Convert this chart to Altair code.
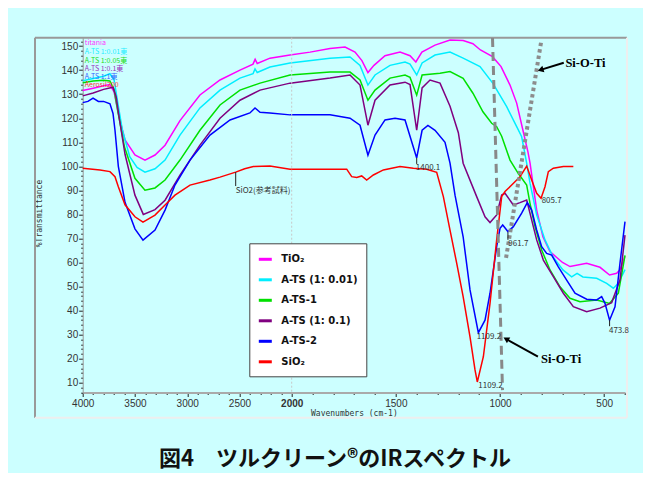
import altair as alt
import pandas as pd

# ---------------- data (wavenumber cm-1, %Transmittance) ----------------
tio2 = [(4000,131.5),(3900,132.5),(3800,133.5),(3740,134),(3700,131),(3660,122),(3595,111),(3500,104.7),
        (3404,102.6),(3308,104.7),(3212,108.8),(3069,119),(2878,129.7),(2686,135.9),(2495,140),(2370,142.5),
        (2350,144.5),(2330,142.8),(2208,145),(2016,146.3),(1912,147.5),(1816,149),(1744,149.6),(1696,147.5),
        (1663,144),(1634,139),(1605,142),(1552,146),(1480,147.5),(1432,146),(1404,143.4),(1375,147.5),
        (1312,150.4),(1240,152.5),(1177,152.3),(1130,151),(1094,148.4),(1036,145.6),(995,141.5),(952,133.8),
        (920,126.3),(890,115),(866,106),(856,101.4),(824,81.8),(794,70.7),(760,64.5),(700,60),(664,58.3),
        (584,59.7),(520,58),(474,54.8),(440,55.5),(424,57),(400,62.6)]
ats001 = [(4000,135.6),(3900,136.5),(3800,137.5),(3740,138.5),(3700,136),(3670,128),(3620,115),(3550,104),
          (3480,99.5),(3404,97.6),(3308,99),(3212,102.6),(3069,113),(2878,124.3),(2686,131.7),(2495,136.7),
          (2370,138.5),(2351,140.5),(2330,139),(2208,141.3),(2016,143),(1816,145),(1720,145.5),(1672,142),
          (1634,133.8),(1600,138),(1528,142),(1456,143.4),(1432,142.5),(1400,138),(1374,143),(1312,146.3),
          (1240,147.5),(1177,145),(1096,141.5),(1034,134.5),(968,124.8),(920,116.5),(896,112.3),(872,101.3),
          (856,93),(824,79.8),(784,69.4),(746,62.4),(698,56.9),(656,54),(630,55.5),(602,54),(536,53.4),
          (488,51.3),(456,49.3),(432,51.3),(400,57)]
ats1 = [(4000,134.8),(3900,135.5),(3800,135.8),(3740,135.5),(3700,132),(3660,122),(3600,108),(3500,95),
        (3404,90.1),(3308,91),(3212,94.3),(3069,102.6),(2878,115),(2686,125.5),(2495,131.7),(2303,134.6),
        (2016,138),(1816,139.2),(1720,139.2),(1672,135.9),(1634,127.5),(1600,131.7),(1528,136.7),(1456,138),
        (1432,137),(1400,129.6),(1374,138),(1288,138.7),(1240,139.4),(1177,136.6),(1130,130.4),(1082,122.7),
        (1040,117.9),(1016,116.5),(992,112.5),(952,102.6),(912,97),(872,92.2),(856,84.6),(832,74.9),
        (800,65.2),(760,56.9),(712,49.9),(664,45.1),(616,43.7),(536,44.4),(474,43),(432,47.2),(400,63)]
ats01 = [(4000,129.3),(3900,130.5),(3800,132),(3710,132.9),(3680,129),(3650,120),(3595,105),(3500,88),
         (3420,80),(3308,82),(3212,85.9),(3069,96.3),(2878,108.8),(2686,120),(2495,127.5),(2303,131.7),
         (2016,134.6),(1816,136.7),(1720,138),(1672,133.8),(1634,117.1),(1600,127.5),(1528,133.8),(1456,135),
         (1432,134),(1400,115),(1374,132.6),(1336,135.9),(1288,134.6),(1240,125),(1200,114),(1177,101.3),
         (1112,87.4),(1072,79),(1048,76.6),(1016,79.8),(992,88.1),(976,88.8),(936,83.9),(904,84.9),(872,86),
         (856,80.5),(824,69.4),(792,61),(744,54.1),(696,47.2),(648,41.6),(584,39.5),(520,41),(464,43.3),
         (424,52.7),(400,71.4)]
ats2 = [(4000,126.5),(3950,127),(3901,128.4),(3850,127),(3800,127),(3739,126),(3710,122),(3691,115),
        (3659,100),(3595,85),(3500,74),(3423,69.3),(3308,73.5),(3212,81.8),(3117,92.2),(2973,102.6),
        (2782,113),(2590,119.3),(2400,122.2),(2351,124.3),(2303,122.5),(2208,122.2),(2016,121.4),(1816,121.4),
        (1720,120),(1672,117.1),(1634,104.6),(1600,113),(1552,119.3),(1504,120),(1456,119.3),(1400,103.5),
        (1374,115),(1346,117),(1312,115),(1264,110),(1240,101.3),(1216,88),(1177,70.7),(1144,48.6),
        (1104,30.8),(1072,36),(1048,47.2),(1016,66.6),(1000,74.2),(987,75.6),(968,73.5),(962,72.8),
        (936,74.9),(896,80.5),(869,84.9),(848,81.8),(824,73.5),(800,66.6),(776,63.8),(752,63.1),(720,58.2),
        (680,52.7),(640,47.2),(584,44.7),(536,44.4),(512,45.8),(496,43),(474,36),(448,41.6),(424,59.7),(400,77)]
sio2 = [(4000,99.2),(3834,98.5),(3739,97.8),(3691,95.7),(3659,91.5),(3595,84),(3500,79),(3423,76.8),
        (3308,79.7),(3212,83.9),(3117,88),(2973,92.2),(2782,94.3),(2686,95.5),(2536,97.6),(2450,99),
        (2367,99.9),(2208,100.1),(2016,98.8),(1864,98.8),(1736,98.8),(1712,95.7),(1688,95.4),(1664,96),
        (1640,94.3),(1608,96.4),(1560,98.5),(1480,99.9),(1416,99.2),(1352,98.8),(1304,97.5),(1272,87.4),
        (1240,73.5),(1208,59.7),(1177,45.8),(1144,29.1),(1120,15.3),(1109,10.3),(1080,20.8),(1048,43),
        (1016,69.4),(992,87.4),(976,89.5),(944,92.2),(904,95.7),(872,100.1),(848,94.3),(824,88.8),
        (803,86.7),(784,91.5),(768,97.8),(744,99.2),(696,99.9),(648,99.9)]

series_names = ["TiO\u2082", "A-TS (1: 0.01)", "A-TS-1", "A-TS (1: 0.1)", "A-TS-2", "SiO\u2082"]
series_colors = ["#ff00ff", "#00eeff", "#00e000", "#800080", "#0000ff", "#ff0000"]
curves = [tio2, ats001, ats1, ats01, ats2, sio2]

# small coloured labels in the upper-left corner
corner_labels = ["titania", "A-TS 1:0.01東", "A-TS 1:0.05東", "A-TS 1:0.1東", "A-TS 1:1東", "Aerosil200"]
corner_colors = ["#ff33ff", "#22eeff", "#22dd22", "#9933bb", "#3366ff", "#ff3333"]
corner_wn = 3980
corner_t = [151.3, 147.7, 144.0, 140.6, 137.3, 134.0]

# peak annotations
peak_labels = ["1109.2", "1109.2", "961.7", "805.7", "473.8", "1400.1", "SiO2(参考試料)"]
peak_wn = [1112, 1104, 960, 800, 477, 1404, 2536]
peak_t = [29.1, 8.6, 67.7, 85.6, 31.5, 99.3, 89.9]
lead_wn = [962, 1400, 2536, 474]
lead_t1 = [72.6, 103.5, 97.6, 36.0]
lead_t2 = [69.4, 101.0, 91.8, 33.5]

# Si-O-Ti guide lines and arrows
dash_wn, dash_t = [1036, 988], [153.4, 6.9]
dot_wn, dot_t = [803, 971], [151.6, 61.9]
arrow1_wn, arrow1_t = [694, 805], [143.1, 140.1]
arrow2_wn, arrow2_t = [818, 971], [20.8, 28.2]
sioti_wn = [686, 803]
sioti_t = [142.9, 19.9]

x_ticks = list(range(4000, 399, -100))
y_ticks = list(range(6, 153, 2))

# ---------------- build ----------------
rows = []
for name, pts in zip(series_names, curves):
    for i, (w, t) in enumerate(pts):
        rows.append({"series": name, "wn": w, "T": t, "idx": i})
df = pd.DataFrame(rows)

XS = alt.Scale(domain=[4000, 2000, 400], range=[0, 209, 542.3], nice=False, zero=False)
YS = alt.Scale(domain=[5.92, 153.5], nice=False, zero=False)

xaxis = alt.Axis(
    values=x_ticks, format="d",
    labelExpr="datum.value % 500 === 0 ? datum.label : ''",
    tickSize={"condition": {"test": "datum.value % 500 === 0", "value": 4}, "value": 2},
    labelFontWeight={"condition": {"test": "datum.value === 2000", "value": "bold"}, "value": "normal"},
    tickColor="#222", domainColor="#aaaaaa", domainWidth=2,
    labelFont="Liberation Sans", labelFontSize=10, labelColor="#333", labelPadding=2,
    labelOverlap=False, labelFlush=False, grid=False,
    title="Wavenumbers (cm-1)", titleFont="DejaVu Sans Mono", titleFontSize=8,
    titleFontWeight="normal", titleColor="#333", titlePadding=1)
yaxis = alt.Axis(
    values=y_ticks,
    labelExpr="datum.value % 10 === 0 ? datum.label : ''",
    tickSize={"condition": {"test": "datum.value % 10 === 0", "value": 4}, "value": 2},
    tickColor="#222", domainColor="#999999", domainWidth=1,
    labelFont="Liberation Sans", labelFontSize=10, labelColor="#333", labelPadding=1,
    labelOverlap=False, labelFlush=False, grid=False,
    title="%Transmittance", titleFont="DejaVu Sans Mono", titleFontSize=8,
    titleFontWeight="normal", titleColor="#333", titleX=-42.7, titleY=175.3,
    titleAlign="center", titleBaseline="middle")


def X(field="wn"):
    return alt.X(f"{field}:Q", scale=XS, axis=xaxis)


def Y(field="T"):
    return alt.Y(f"{field}:Q", scale=YS, axis=yaxis)


one = pd.DataFrame({"a": [0]})

frame_dark = alt.Chart(one).mark_rule(color="#999999", strokeWidth=2).encode(
    x=alt.value(-47.7), x2=alt.value(544.3), y=alt.value(0))
frame_dark2 = alt.Chart(one).mark_rule(color="#999999", strokeWidth=2).encode(
    x=alt.value(-47.7), y=alt.value(0), y2=alt.value(380))
frame_light = alt.Chart(one).mark_rule(color="#eeeeee", strokeWidth=2).encode(
    x=alt.value(-47.7), x2=alt.value(544.3), y=alt.value(380))
frame_light2 = alt.Chart(one).mark_rule(color="#eeeeee", strokeWidth=2).encode(
    x=alt.value(544.3), y=alt.value(0), y2=alt.value(380))

lines = alt.Chart(df).mark_line(strokeWidth=1.5).encode(
    x=X(),
    y=Y(),
    color=alt.Color("series:N", scale=alt.Scale(domain=series_names, range=series_colors),
                    legend=alt.Legend(orient="none", legendX=166.6, legendY=205.6, title=None,
                                      symbolType="stroke", symbolSize=169, symbolStrokeWidth=3,
                                      labelFont="DejaVu Sans", labelFontWeight="bold", labelFontSize=10,
                                      labelColor="#111", rowPadding=6.5, padding=8, labelOffset=8,
                                      fillColor="white", strokeColor="#444")),
    order=alt.Order("idx:Q"),
    detail="series:N")

grid2000 = alt.Chart(pd.DataFrame({"wn": [2000]})).mark_rule(
    color="#c8c8c8", strokeDash=[2, 2], strokeWidth=1).encode(x=X())

dash_line = alt.Chart(pd.DataFrame({"wn": dash_wn, "T": dash_t})).mark_line(
    color="#888888", strokeWidth=3, strokeDash=[9, 5]).encode(x=X(), y=Y())
dot_line = alt.Chart(pd.DataFrame({"wn": dot_wn, "T": dot_t})).mark_line(
    color="#8c8c8c", strokeWidth=4, strokeDash=[3.5, 3]).encode(x=X(), y=Y())

leaders = alt.Chart(pd.DataFrame({"wn": lead_wn, "t1": lead_t1, "t2": lead_t2})).mark_rule(
    color="#222", strokeWidth=1).encode(x=X(), y=Y("t1"), y2="t2:Q")

peaks = alt.Chart(pd.DataFrame({"wn": peak_wn, "T": peak_t, "label": peak_labels})).mark_text(
    align="left", baseline="middle", font="Noto Sans CJK JP", fontSize=8, color="#333").encode(
    x=X(), y=Y(), text="label:N")

arrow1 = alt.Chart(pd.DataFrame({"wn": arrow1_wn, "T": arrow1_t})).mark_line(
    color="black", strokeWidth=2).encode(x=X(), y=Y())
arrow2 = alt.Chart(pd.DataFrame({"wn": arrow2_wn, "T": arrow2_t})).mark_line(
    color="black", strokeWidth=2).encode(x=X(), y=Y())
head1 = alt.Chart(pd.DataFrame({"wn": [arrow1_wn[1]], "T": [arrow1_t[1]]})).mark_point(
    shape="triangle-up", filled=True, size=45, color="black", opacity=1, angle=252).encode(x=X(), y=Y())
head2 = alt.Chart(pd.DataFrame({"wn": [arrow2_wn[1]], "T": [arrow2_t[1]]})).mark_point(
    shape="triangle-up", filled=True, size=45, color="black", opacity=1, angle=299).encode(x=X(), y=Y())
sioti = alt.Chart(pd.DataFrame({"wn": sioti_wn, "T": sioti_t, "label": ["Si-O-Ti", "Si-O-Ti"]})).mark_text(
    align="left", baseline="middle", font="Liberation Serif", fontWeight="bold", fontSize=12.5,
    color="black").encode(x=X(), y=Y(), text="label:N")

corner_layers = []
for lab, col, t in zip(corner_labels, corner_colors, corner_t):
    corner_layers.append(
        alt.Chart(pd.DataFrame({"wn": [corner_wn], "T": [t], "label": [lab]})).mark_text(
            align="left", baseline="middle", font="Noto Sans CJK JP", fontSize=7, color=col).encode(
            x=X(), y=Y(), text="label:N"))

title = alt.Chart(pd.DataFrame({"label": ["図4　ツルクリーン®のIRスペクトル"]})).mark_text(
    align="center", baseline="middle", font="Noto Sans CJK JP", fontWeight="bold", fontSize=22,
    color="#111").encode(x=alt.value(252.3), y=alt.value(421.5), text="label:N")

chart = alt.layer(
    lines, frame_dark, frame_dark2, frame_light, frame_light2, grid2000,
    dash_line, dot_line, leaders, peaks,
    arrow1, arrow2, head1, head2, sioti, *corner_layers, title
).properties(
    width=542.3, height=354.8, background="#ccffff",
    padding={"left": 74.7, "top": 29.7, "right": 18.0, "bottom": 80.5},
    autosize=alt.AutoSizeParams(type="none"),
).configure_view(stroke=None)

chart.save("out.html", embed_options={"renderer": "svg", "actions": False})
